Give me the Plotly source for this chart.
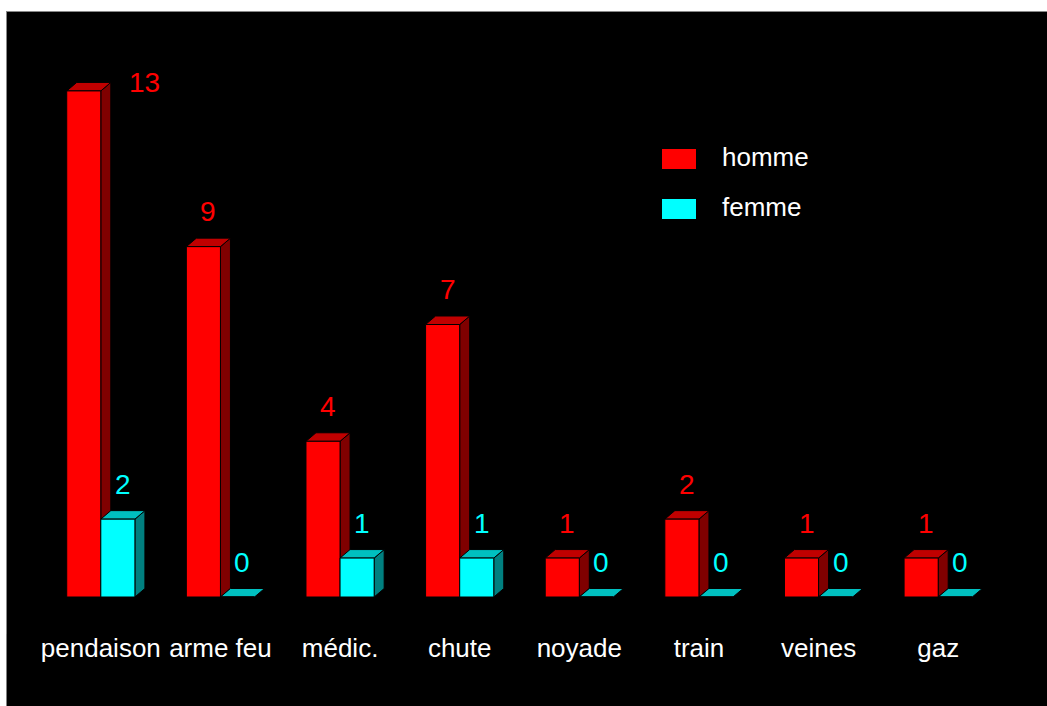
import plotly.graph_objects as go

# ---- data ----
categories = ["pendaison", "arme feu", "médic.", "chute", "noyade", "train", "veines", "gaz"]
homme = [13, 9, 4, 7, 1, 2, 1, 1]
femme = [2, 0, 1, 1, 0, 0, 0, 0]
series_names = ["homme", "femme"]

# ---- layout geometry ----
W, H = 1047, 706
ML, MR, MT, MB = 41, 49, 52, 109
PW, PH = W - ML - MR, H - MT - MB
YMAX = 14
XMIN, XMAX = -0.5, len(categories) - 0.5
px_per_cat = PW / (XMAX - XMIN)
px_per_unit = PH / YMAX

BAR_W = 0.285
DX = 10 / px_per_cat        # depth offset (x) in data units
DY = 8.5 / px_per_unit      # depth offset (y) in data units

styles = {
    "homme": dict(front="#ff0000", side="#800000", top="#c00000", offset=-BAR_W),
    "femme": dict(front="#00ffff", side="#008080", top="#00c0c0", offset=0.0),
}
FONT = "Arial, 'Liberation Sans', sans-serif"

def px2paper_x(px):
    return (px - ML) / PW

def px2paper_y(py):
    return 1 - (py - MT) / PH

fig = go.Figure()
xs = list(range(len(categories)))
shapes = []
annotations = []

for name, vals in zip(series_names, [homme, femme]):
    st = styles[name]
    fig.add_trace(go.Bar(
        x=xs, y=vals, name=name, width=BAR_W, offset=st["offset"],
        marker=dict(color=st["front"], line=dict(color="black", width=1)),
        showlegend=False, hoverinfo="x+y",
    ))
    for i, v in enumerate(vals):
        x0 = i + st["offset"]
        x1 = x0 + BAR_W
        if v > 0:
            side = (f"M {x1} 0 L {x1 + DX} {DY} L {x1 + DX} {v + DY} L {x1} {v} Z")
            shapes.append(dict(type="path", path=side, xref="x", yref="y", layer="below",
                               fillcolor=st["side"], line=dict(color="black", width=1)))
        top = (f"M {x0} {v} L {x0 + DX} {v + DY} L {x1 + DX} {v + DY} L {x1} {v} Z")
        shapes.append(dict(type="path", path=top, xref="x", yref="y", layer="below",
                           fillcolor=st["top"], line=dict(color="black", width=1)))
        # value label
        label_dy = 35 / px_per_unit
        if v + label_dy + 14 / px_per_unit > YMAX:
            annotations.append(dict(x=x1 + DX + 16 / px_per_cat, y=v + DY, xref="x", yref="y",
                                    text=str(v), showarrow=False, xanchor="left", yanchor="middle",
                                    font=dict(family=FONT, size=28, color=st["front"])))
        else:
            annotations.append(dict(x=(x0 + x1) / 2 + 5 / px_per_cat, y=v + label_dy, xref="x", yref="y",
                                    text=str(v), showarrow=False, xanchor="center", yanchor="middle",
                                    font=dict(family=FONT, size=28, color=st["front"])))

# custom legend
for k, name in enumerate(series_names):
    st = styles[name]
    y_top = 149 + 50 * k
    shapes.append(dict(type="rect", xref="paper", yref="paper",
                       x0=px2paper_x(662), x1=px2paper_x(696),
                       y0=px2paper_y(y_top + 20), y1=px2paper_y(y_top),
                       fillcolor=st["front"], line=dict(width=0)))
    annotations.append(dict(x=px2paper_x(720), y=px2paper_y(y_top + 8), xref="paper", yref="paper",
                            text=name, showarrow=False, xanchor="left", yanchor="middle",
                            font=dict(family=FONT, size=26, color="white")))

# white frame strips (top and left)
shapes.append(dict(type="rect", xref="paper", yref="paper",
                   x0=px2paper_x(-5), x1=px2paper_x(W + 5), y0=px2paper_y(11), y1=px2paper_y(-5),
                   fillcolor="white", line=dict(width=0), layer="above"))
shapes.append(dict(type="rect", xref="paper", yref="paper",
                   x0=px2paper_x(-5), x1=px2paper_x(6.5), y0=px2paper_y(H + 5), y1=px2paper_y(-5),
                   fillcolor="white", line=dict(width=0), layer="above"))
shapes.append(dict(type="line", xref="paper", yref="paper",
                   x0=px2paper_x(6.5), x1=px2paper_x(W + 5), y0=px2paper_y(11.5), y1=px2paper_y(11.5),
                   line=dict(color="#888888", width=1), layer="above"))
shapes.append(dict(type="line", xref="paper", yref="paper",
                   x0=px2paper_x(6.5), x1=px2paper_x(6.5), y0=px2paper_y(11.5), y1=px2paper_y(634),
                   line=dict(color="#888888", width=1), layer="above"))

fig.update_layout(
    width=W, height=H,
    margin=dict(l=ML, r=MR, t=MT, b=MB, pad=0),
    paper_bgcolor="black", plot_bgcolor="black",
    barmode="overlay",
    showlegend=False,
    shapes=shapes, annotations=annotations,
    font=dict(family=FONT, color="white"),
    xaxis=dict(range=[XMIN, XMAX], tickvals=xs, ticktext=categories, showgrid=False,
               zeroline=False, showline=False, ticks="outside", ticklen=28,
               tickcolor="rgba(0,0,0,0)", tickfont=dict(family=FONT, size=26, color="white"),
               fixedrange=True),
    yaxis=dict(range=[0, YMAX], showgrid=False, zeroline=False, showline=False,
               showticklabels=False, fixedrange=True),
)

fig.write_html("out.html", config={"displayModeBar": False},
               post_script="document.body.style.margin='0';document.body.style.overflow='hidden';")
